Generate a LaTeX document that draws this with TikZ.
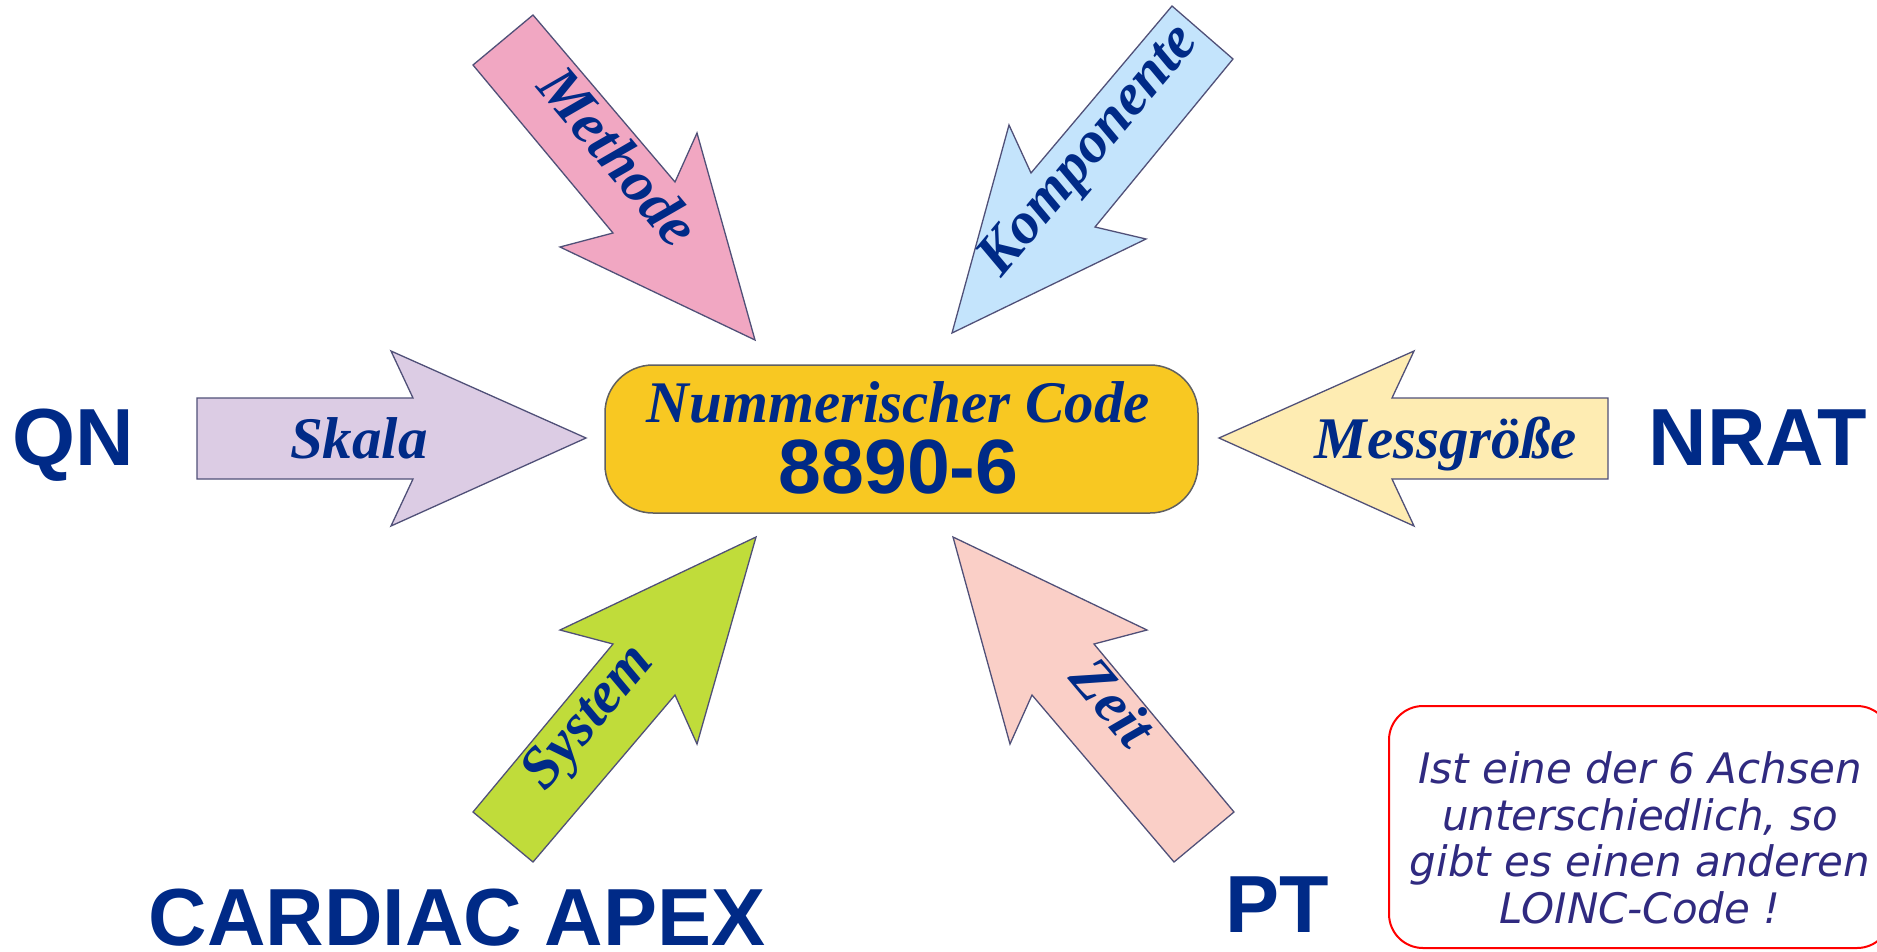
\documentclass[tikz,border=0pt]{standalone}
\usepackage{fontspec}
\setmainfont{Liberation Serif}
\newfontfamily\arialfont{Liberation Sans}
\newfontfamily\verdfont{DejaVu Sans}
\definecolor{navy}{RGB}{0,42,135}
\definecolor{notetext}{RGB}{48,42,128}
\definecolor{cpink}{RGB}{241,167,194}
\definecolor{cblue}{RGB}{196,228,252}
\definecolor{clav}{RGB}{220,204,228}
\definecolor{cyell}{RGB}{254,236,178}
\definecolor{clime}{RGB}{192,220,58}
\definecolor{cpeach}{RGB}{250,207,199}
\definecolor{cgold}{RGB}{248,200,34}
\definecolor{edge}{RGB}{80,80,120}
\begin{document}
\begin{tikzpicture}[x=1pt,y=-1pt,
  arrowshape/.style={draw=edge,line width=1.3pt,line join=miter},
  arrowlabel/.style={text=navy,font=\fontsize{59}{59}\selectfont\bfseries\itshape,inner sep=0pt},
  biglabel/.style={text=navy,font=\fontsize{81}{81}\selectfont\arialfont\bfseries,inner sep=0pt,anchor=base},
  codebox/.style={draw=gray!75!black,line width=1.5pt,fill=cgold,rounded corners=48pt,minimum width=593pt,minimum height=148pt,inner sep=0pt},
  notebox/.style={draw=red,line width=2pt,rounded corners=34pt},
  notelabel/.style={text=notetext,font=\fontsize{42}{46.5}\selectfont\verdfont\itshape,align=center,inner sep=0pt}]
\clip (0,0) rectangle (1877,951);
\fill[white] (0,0) rectangle (1877,951);
% Methode (pink)
\draw[arrowshape,fill=cpink] (533,15) -- (675,182) -- (697,133) -- (755,340) -- (560,247) -- (613,233) -- (473,65) -- cycle;
% Komponente (blue)
\draw[arrowshape,fill=cblue] (1172,6) -- (1233,59) -- (1095,227) -- (1146,239) -- (952,333) -- (1009,125) -- (1031,173) -- cycle;
% Skala (lavender)
\draw[arrowshape,fill=clav] (197,398) -- (413,398) -- (391,351) -- (586,438) -- (391,526) -- (413,479) -- (197,479) -- cycle;
% Messgroesse (yellow)
\draw[arrowshape,fill=cyell] (1608,398) -- (1392,398) -- (1414,351) -- (1219,438) -- (1414,526) -- (1392,479) -- (1608,479) -- cycle;
% System (lime)
\draw[arrowshape,fill=clime] (533,862) -- (675,695) -- (697,744) -- (756,537) -- (560,630) -- (613,644) -- (473,812) -- cycle;
% Zeit (peach)
\draw[arrowshape,fill=cpeach] (1174,862) -- (1032,695) -- (1010,744) -- (953,537) -- (1147,630) -- (1094,644) -- (1234,812) -- cycle;
% central box
\node[codebox] (code) at (901.5,439) {};
\node[arrowlabel,anchor=base] (codetitle) at (898.5,422) {Nummerischer Code};
\node[text=navy,font=\fontsize{77}{77}\selectfont\arialfont\bfseries,inner sep=0pt,anchor=base] (codenum) at (898.5,493) {8890-6};
% arrow labels
\node[arrowlabel,rotate=-50,text height=0.66em,text depth=0pt] (methode) at (606,167) {Methode};
\node[arrowlabel,rotate=50,text height=0.66em,text depth=0pt] (komponente) at (1098,158) {Komponente};
\node[arrowlabel,anchor=base] (skala) at (359,458) {Skala};
\node[arrowlabel,anchor=base] (messgroesse) at (1446,458) {Messgröße};
\node[arrowlabel,rotate=50,text height=0.66em,text depth=0pt] (system) at (598,725) {System};
\node[arrowlabel,rotate=-50,text height=0.66em,text depth=0pt] (zeit) at (1101,713) {Zeit};
% big value labels
\node[biglabel] (qn) at (73.5,465) {QN};
\node[biglabel] (nrat) at (1758,465) {NRAT};
\node[biglabel] (apex) at (457,945) {CARDIAC APEX};
\node[biglabel] (pt) at (1277,932) {PT};
% note
\draw[notebox] (1389,706) rectangle (1891,948);
\node[notelabel] (note) at (1640,838) {Ist eine der 6 Achsen\\unterschiedlich, so\\gibt es einen anderen\\LOINC-Code !};
\end{tikzpicture}
\end{document}
